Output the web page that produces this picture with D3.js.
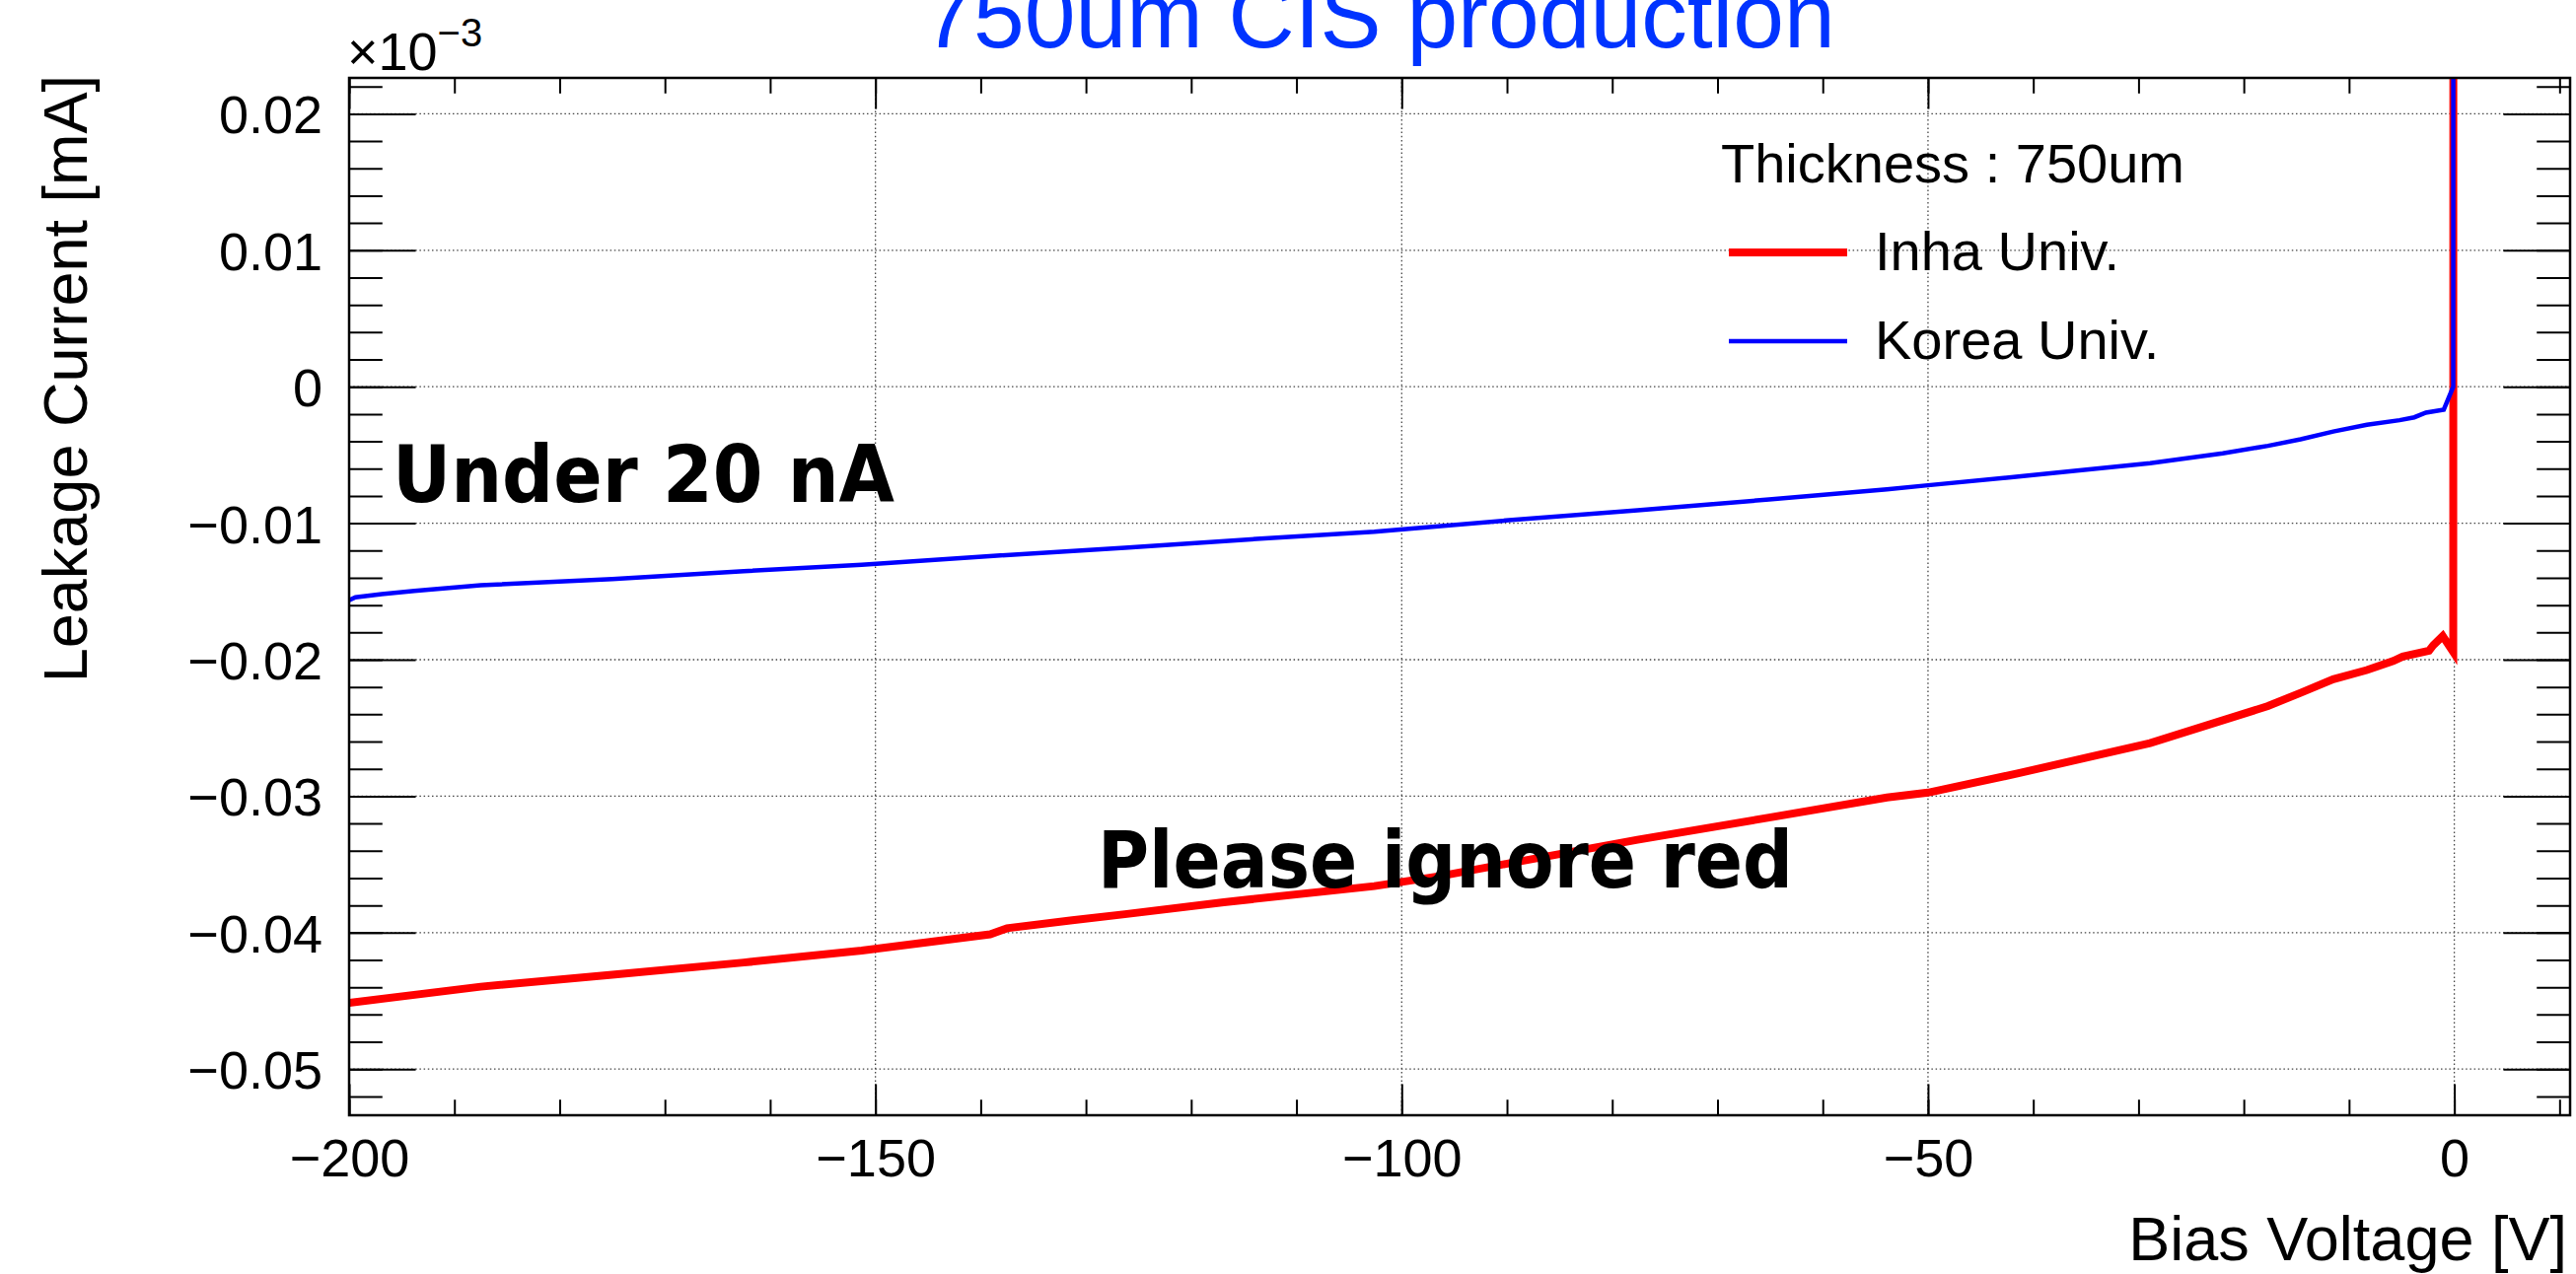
<!DOCTYPE html>
<html>
<head>
<meta charset="utf-8">
<script src="https://cdn.jsdelivr.net/npm/d3@7"></script>
<style>
  html, body { margin: 0; padding: 0; background: #fff; }
  svg { display: block; }
</style>
</head>
<body>
<script>
// ---------------- DATA ----------------
const inhaVoltage = [-200, -187.5, -175, -162.5, -151.3, -139.1, -137.5, -131.3, -126.3, -116.9, -102.6, -96.3, -90.1, -77.6, -65.1, -53.9, -50, -41.4, -28.9, -17.7, -14.6, -11.5, -8.3, -5.8, -4.9, -2.4, -2.0, -1.1, -0.1, 0];
const inhaCurrent = [-0.04514, -0.04396, -0.04308, -0.04219, -0.04131, -0.04012, -0.03968, -0.03909, -0.03865, -0.03777, -0.03659, -0.03585, -0.03496, -0.03319, -0.03157, -0.0301, -0.02974, -0.02832, -0.02611, -0.0234, -0.02243, -0.02143, -0.02076, -0.0201, -0.01977, -0.01934, -0.01894, -0.01827, -0.01944, 0.5];

const koreaVoltage = [-200, -199.4, -196.9, -193.8, -187.5, -175, -162.5, -151.3, -138.8, -126.3, -113.8, -102.6, -90.1, -77.6, -65.1, -53.9, -50, -41.4, -28.9, -22.0, -17.7, -14.6, -11.5, -8.3, -5.2, -3.8, -2.7, -1.0, -0.1, 0];
const koreaCurrent = [-0.01564, -0.01543, -0.01519, -0.01496, -0.01455, -0.0141, -0.01351, -0.01304, -0.01239, -0.0118, -0.01115, -0.01062, -0.0098, -0.00906, -0.00826, -0.00752, -0.00722, -0.00658, -0.0056, -0.00488, -0.00433, -0.00385, -0.00328, -0.00278, -0.00245, -0.00224, -0.00190, -0.00168, 0.0, 0.5];

const xMajorTicks = [-200, -150, -100, -50, 0];
const xTickLabels = ["\u2212200", "\u2212150", "\u2212100", "\u221250", "0"];
const yMajorTicks = [0.02, 0.01, 0, -0.01, -0.02, -0.03, -0.04, -0.05];
const yTickLabels = ["0.02", "0.01", "0", "\u22120.01", "\u22120.02", "\u22120.03", "\u22120.04", "\u22120.05"];
const xMinorTicks = d3.range(-200, 11, 10);
const yMinorTicks = d3.range(-52, 23, 2).map(v => v / 1000);

const xDomain = [-200, 11];
const yDomain = [-0.05338, 0.02263];

const seriesNames = ["Inha Univ.", "Korea Univ."];
const seriesColors = ["#ff0000", "#0000ff"];

// ---------------- LAYOUT ----------------
const W = 2612, H = 1292;
const L = 354, R = 2606, T = 79, B = 1131;
const FONT = "'Liberation Sans', Arial, Helvetica, sans-serif";

const svg = d3.select("body").append("svg").attr("width", W).attr("height", H);

const x = d3.scaleLinear().domain(xDomain).range([L, R]);
const y = d3.scaleLinear().domain(yDomain).range([B, T]);

svg.append("defs").append("clipPath").attr("id", "frameClip")
  .append("rect").attr("x", L).attr("y", T).attr("width", R - L).attr("height", B - T);

// grid
const grid = svg.append("g").attr("stroke", "#444").attr("stroke-width", 1.3).attr("stroke-dasharray", "1.5 2.7");
grid.selectAll("line.gx").data(xMajorTicks).join("line")
  .attr("x1", d => x(d)).attr("x2", d => x(d)).attr("y1", T).attr("y2", B);
grid.selectAll("line.gy").data(yMajorTicks).join("line")
  .attr("y1", d => y(d)).attr("y2", d => y(d)).attr("x1", L).attr("x2", R);

// axes
const xTickLen = 0.03 * (B - T), yTickLen = 0.03 * (R - L);
function styleAxis(g) {
  g.select(".domain").remove();
  g.selectAll(".tick line").attr("stroke", "#000").attr("stroke-width", 2);
}
svg.append("g").attr("transform", `translate(0,${B})`)
  .call(d3.axisBottom(x).tickValues(xMinorTicks).tickSize(-xTickLen / 2).tickFormat(""))
  .call(styleAxis);
svg.append("g").attr("transform", `translate(0,${T})`)
  .call(d3.axisTop(x).tickValues(xMinorTicks).tickSize(-xTickLen / 2).tickFormat(""))
  .call(styleAxis);
svg.append("g").attr("transform", `translate(0,${T})`)
  .call(d3.axisTop(x).tickValues(xMajorTicks).tickSize(-xTickLen).tickFormat(""))
  .call(styleAxis);
const gxb = svg.append("g").attr("transform", `translate(0,${B})`)
  .call(d3.axisBottom(x).tickValues(xMajorTicks).tickSize(-xTickLen).tickPadding(0)
    .tickFormat((d, i) => xTickLabels[i]))
  .call(styleAxis);
gxb.selectAll("text").attr("y", 62).attr("dy", 0)
  .attr("font-family", FONT).attr("font-size", 54).attr("fill", "#000");

svg.append("g").attr("transform", `translate(${L},0)`)
  .call(d3.axisLeft(y).tickValues(yMinorTicks).tickSize(-yTickLen / 2).tickFormat(""))
  .call(styleAxis);
svg.append("g").attr("transform", `translate(${R},0)`)
  .call(d3.axisRight(y).tickValues(yMinorTicks).tickSize(-yTickLen / 2).tickFormat(""))
  .call(styleAxis);
svg.append("g").attr("transform", `translate(${R},0)`)
  .call(d3.axisRight(y).tickValues(yMajorTicks).tickSize(-yTickLen).tickFormat(""))
  .call(styleAxis);
const gyl = svg.append("g").attr("transform", `translate(${L},0)`)
  .call(d3.axisLeft(y).tickValues(yMajorTicks).tickSize(-yTickLen).tickPadding(27)
    .tickFormat((d, i) => yTickLabels[i]))
  .call(styleAxis);
gyl.selectAll("text").attr("dy", "0.36em")
  .attr("font-family", FONT).attr("font-size", 54).attr("fill", "#000");

// curves
const line = d3.line().x(d => x(d[0])).y(d => y(d[1]));
const plot = svg.append("g").attr("clip-path", "url(#frameClip)");
plot.append("path").datum(d3.zip(inhaVoltage, inhaCurrent))
  .attr("d", line).attr("fill", "none").attr("stroke", seriesColors[0])
  .attr("stroke-width", 8).attr("stroke-linejoin", "miter");
plot.append("path").datum(d3.zip(koreaVoltage, koreaCurrent))
  .attr("d", line).attr("fill", "none").attr("stroke", seriesColors[1])
  .attr("stroke-width", 4.5).attr("stroke-linejoin", "miter");

// frame
svg.append("rect").attr("x", L).attr("y", T).attr("width", R - L).attr("height", B - T)
  .attr("fill", "none").attr("stroke", "#000").attr("stroke-width", 2.5);

// exponent
const expo = svg.append("text").attr("x", 352).attr("y", 71)
  .attr("font-family", FONT).attr("font-size", 54).attr("fill", "#000");
expo.append("tspan").text("\u00d710");
expo.append("tspan").attr("font-size", 40).attr("dy", -24).text("\u22123");

// title
svg.append("text").attr("x", 1398).attr("y", 48).attr("text-anchor", "middle")
  .attr("font-family", FONT).attr("font-size", 93).attr("fill", "#0033ff")
  .text("750um CIS production");

// axis titles
svg.append("text").attr("x", 2603).attr("y", 1278).attr("text-anchor", "end")
  .attr("font-family", FONT).attr("font-size", 63).attr("fill", "#000")
  .text("Bias Voltage [V]");
svg.append("text").attr("transform", "translate(88,76) rotate(-90)").attr("text-anchor", "end")
  .attr("font-family", FONT).attr("font-size", 63).attr("fill", "#000")
  .text("Leakage Current [mA]");

// legend
svg.append("text").attr("x", 1745).attr("y", 185)
  .attr("font-family", FONT).attr("font-size", 56).attr("fill", "#000")
  .text("Thickness : 750um");
const legY = [256, 346];
const legW = [8, 4.5];
seriesNames.forEach((name, i) => {
  svg.append("line").attr("x1", 1753).attr("x2", 1873).attr("y1", legY[i]).attr("y2", legY[i])
    .attr("stroke", seriesColors[i]).attr("stroke-width", legW[i]);
  svg.append("text").attr("x", 1901).attr("y", legY[i] + 18)
    .attr("font-family", FONT).attr("font-size", 56).attr("fill", "#000").text(name);
});

// annotations
const BOLD = "'DejaVu Sans Condensed', 'DejaVu Sans', sans-serif";
svg.append("text").attr("x", 398).attr("y", 509)
  .attr("font-family", BOLD).attr("font-weight", "bold").attr("font-stretch", "condensed")
  .attr("font-size", 81).attr("fill", "#000")
  .attr("textLength", 509).attr("lengthAdjust", "spacingAndGlyphs")
  .text("Under 20 nA");
svg.append("text").attr("x", 1113).attr("y", 900)
  .attr("font-family", BOLD).attr("font-weight", "bold").attr("font-stretch", "condensed")
  .attr("font-size", 81).attr("fill", "#000")
  .attr("textLength", 705).attr("lengthAdjust", "spacingAndGlyphs")
  .text("Please ignore red");
</script>
</body>
</html>
